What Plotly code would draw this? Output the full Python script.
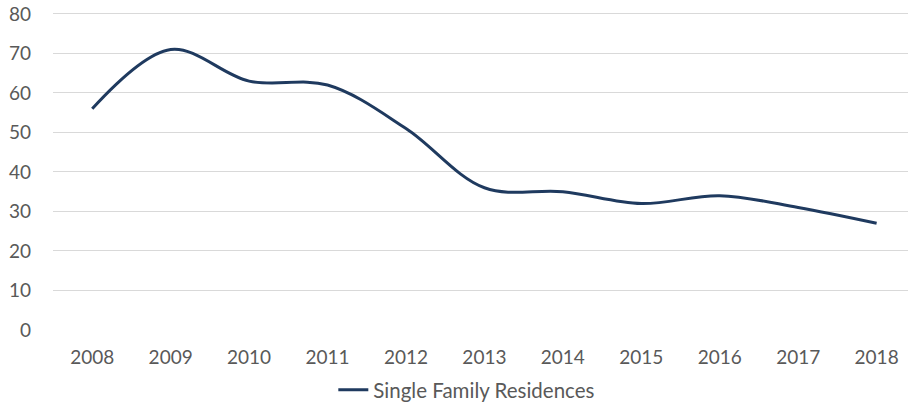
import plotly.graph_objects as go

years = ["2008", "2009", "2010", "2011", "2012", "2013", "2014", "2015", "2016", "2017", "2018"]
single_family = [56, 71, 63, 62, 51, 36, 35, 32, 34, 31, 27]
y_ticks = [0, 10, 20, 30, 40, 50, 60, 70, 80]

fig = go.Figure()
fig.add_trace(go.Scatter(
    x=years, y=single_family, mode="lines",
    name="Single Family Residences",
    line=dict(color="#1f3a5f", width=3, shape="spline", smoothing=1),
))

font = dict(family="Lato, 'Open Sans', sans-serif", size=19, color="#595959")
legend_font = dict(family="Lato, 'Open Sans', sans-serif", size=20.5, color="#595959")
fig.update_layout(
    width=909, height=410,
    margin=dict(l=53, r=1, t=10, b=80),
    paper_bgcolor="white", plot_bgcolor="white",
    font=font,
    showlegend=True,
    legend=dict(orientation="h", x=0.484, xanchor="center", y=15, yref="container",
                yanchor="middle", font=legend_font, itemwidth=30, bgcolor="rgba(0,0,0,0)"),
    xaxis=dict(type="category", range=[-0.5, 10.4], showgrid=False, zeroline=False,
               showline=False, ticks="", tickfont=font, ticklabelstandoff=14),
    yaxis=dict(range=[0, 81], tickvals=y_ticks, showgrid=True, gridcolor="#d9d9d9",
               gridwidth=1, zeroline=False, showline=False, ticks="", tickfont=font,
               ticklabelstandoff=21),
)
fig.write_html("out.html", config={"displayModeBar": False},
               post_script="document.body.style.margin='0';")
